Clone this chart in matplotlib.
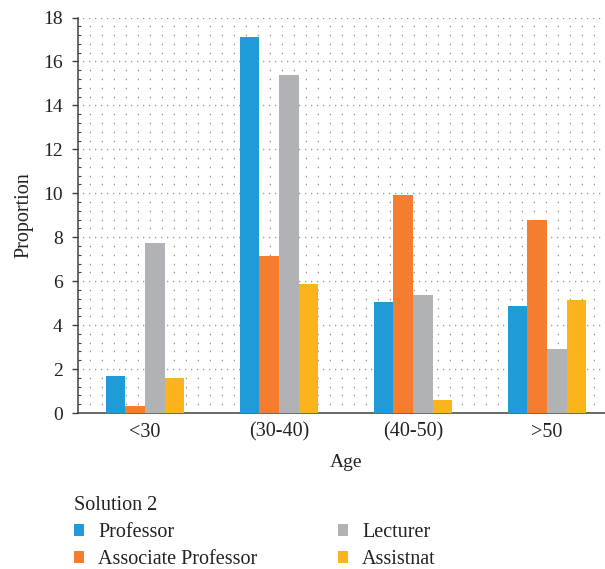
import matplotlib

matplotlib.use("Agg")
import matplotlib.pyplot as plt
import numpy as np
from matplotlib.ticker import MultipleLocator

plt.rcParams["font.family"] = ["Liberation Serif", "DejaVu Serif"]

# Données du graphique
categories = ["<30", "(30-40)", "(40-50)", ">50"]
series = ["Professor", "Associate Professor", "Lecturer", "Assistnat"]
professor = [1.7, 17.1, 5.05, 4.88]
associate = [0.3, 7.15, 9.92, 8.78]
lecturer = [7.75, 15.38, 5.38, 2.92]
assistnat = [1.6, 5.85, 0.6, 5.16]
colors = ["#1f9cd8", "#f47d30", "#b1b2b6", "#fbb41b"]

valeurs = [professor, associate, lecturer, assistnat]

fig = plt.figure(figsize=(6.05, 5.69), dpi=100)
ax = fig.add_axes([78 / 605, 1 - 413 / 569, 536 / 605, 395.5 / 569])

x = np.arange(len(categories))
width = 0.146
for i, (vals, nom, col) in enumerate(zip(valeurs, series, colors)):
    ax.bar(x + (i - 1.5) * width, vals, width, color=col, label=nom, zorder=3)

ax.set_xlim(-0.5, 3.5)
ax.set_ylim(0, 18)
ax.set_xticks(x)
ax.set_xticklabels(categories)
ax.yaxis.set_major_locator(MultipleLocator(2))
ax.yaxis.set_minor_locator(MultipleLocator(0.4))

# Grille en pointillés (treillis de points)
ax.grid(which="minor", axis="y", color="#8a8a8a", linewidth=1.0,
        linestyle=(0.5, (0.8, 7.84)), zorder=0)
ax.grid(which="major", axis="y", color="#8a8a8a", linewidth=1.0,
        linestyle=(1.0, (0.8, 3.52)), zorder=0)

for s in ["top", "right"]:
    ax.spines[s].set_visible(False)
for s in ["left", "bottom"]:
    ax.spines[s].set_color("#404040")
    ax.spines[s].set_linewidth(1.1)

ax.tick_params(axis="y", which="major", direction="out", length=4, width=1,
               color="#404040", pad=7, labelsize=14, labelcolor="#222222")
ax.tick_params(axis="y", which="minor", direction="in", length=2.5, width=0.8,
               color="#404040")
ax.tick_params(axis="x", length=0, pad=7, labelsize=14.5, labelcolor="#222222")

ax.set_ylabel("Proportion", fontsize=14.5, color="#222222", labelpad=7)
ax.set_xlabel("Age", fontsize=14, color="#222222", labelpad=9)

leg = fig.legend(
    loc="upper left",
    bbox_to_anchor=(74 / 605, 1 - 496 / 569),
    ncol=2,
    frameon=False,
    title="Solution 2",
    fontsize=14.5,
    title_fontsize=14.5,
    alignment="left",
    handlelength=0.5,
    handleheight=0.5,
    handletextpad=0.7,
    columnspacing=4.0,
    labelspacing=0.4,
    borderpad=0,
    borderaxespad=0,
)
for t in leg.get_texts():
    t.set_color("#222222")
leg.get_title().set_color("#222222")

plt.savefig("out.png", dpi=100)
